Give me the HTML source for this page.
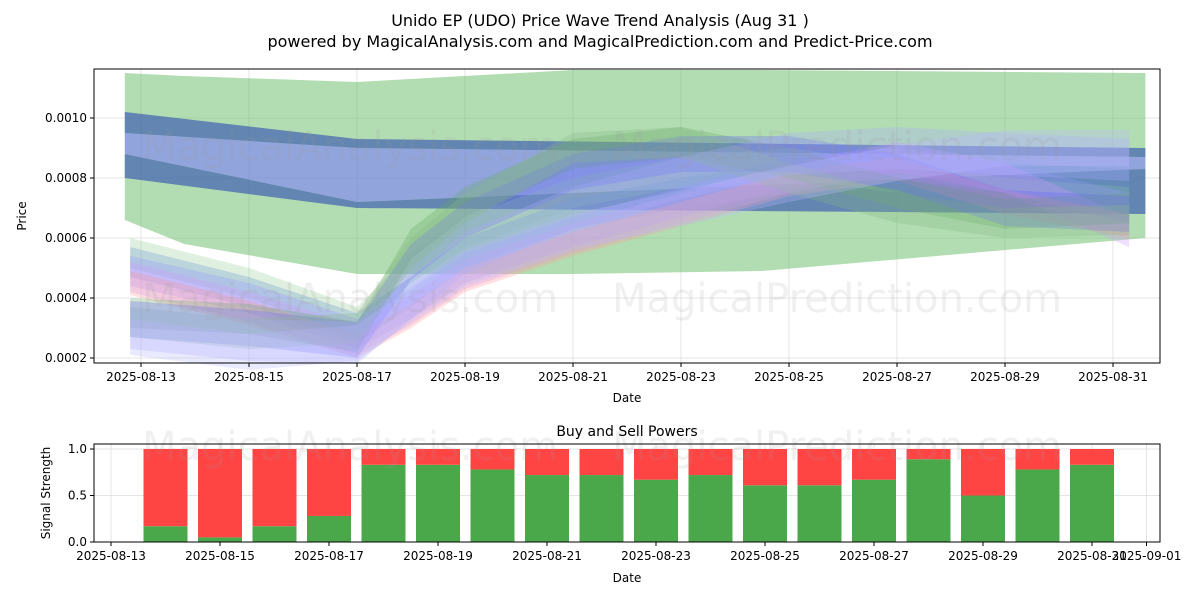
<!DOCTYPE html>
<html><head><meta charset="utf-8"><style>
body{margin:0;background:#fff;font-family:"Liberation Sans","DejaVu Sans",sans-serif}
svg text{font-family:"DejaVu Sans","Liberation Sans",sans-serif}
</style></head><body>
<svg id="c" width="1200" height="600" xmlns="http://www.w3.org/2000/svg">
<text x="600" y="26" font-size="16" text-anchor="middle">Unido EP (UDO) Price Wave Trend Analysis (Aug 31 )</text>
<text x="600" y="47" font-size="16" text-anchor="middle">powered by MagicalAnalysis.com and MagicalPrediction.com and Predict-Price.com</text>
<g id="topg"></g><g id="botg"></g>
</svg>
<script>
const priceTicks=[0.0002,0.0004,0.0006,0.0008,0.0010];
const dateTicks=["2025-08-13","2025-08-15","2025-08-17","2025-08-19","2025-08-21","2025-08-23","2025-08-25","2025-08-27","2025-08-29","2025-08-31"];
const bandDays=[12.8,15,17,18,19,21,23,25,27,29,31.3];
const waveCenters=[
[0.00055,0.00045,0.00032,0.00050,0.00062,0.00075,0.00082,0.00085,0.00080,0.00075,0.00072],
[0.00052,0.00042,0.00030,0.00042,0.00055,0.00068,0.00075,0.00080,0.00083,0.00080,0.00078],
[0.00049,0.00040,0.00028,0.00038,0.00050,0.00062,0.00072,0.00082,0.00085,0.00080,0.00070],
[0.00047,0.00037,0.00026,0.00036,0.00048,0.00060,0.00070,0.00080,0.00087,0.00080,0.00062],
[0.00045,0.00035,0.00024,0.00034,0.00046,0.00058,0.00068,0.00078,0.00083,0.00072,0.00064],
[0.00035,0.00033,0.00027,0.00058,0.00072,0.00088,0.00092,0.00085,0.00075,0.00068,0.00070],
[0.00033,0.00030,0.00026,0.00052,0.00066,0.00082,0.00088,0.00088,0.00082,0.00070,0.00068],
[0.00032,0.00028,0.00030,0.00055,0.00070,0.00090,0.00092,0.00080,0.00070,0.00065,0.00066],
[0.00030,0.00026,0.00025,0.00040,0.00055,0.00070,0.00080,0.00088,0.00090,0.00088,0.00086],
[0.00027,0.00022,0.00025,0.00038,0.00050,0.00062,0.00070,0.00078,0.00085,0.00090,0.00090]
];
const waveHalf=[0.00005,0.00005,0.00005,0.00005,0.00004,0.00005,0.00006,0.00005,0.00007,0.00006];
const waveColors=["#9c9","#69c","#99f","#c9f","#f99","#6a6","#66f","#8b8","#aaf","#bbf"];
const greenDays=[12.7,13.8,17,21,24.5,31.6];
const greenUpper=[0.00115,0.00114,0.00112,0.00116,0.00116,0.00115];
const greenLower=[0.00066,0.00058,0.00048,0.00048,0.00049,0.00060];
const blueDays=[12.7,17,31.6];
const dark1Upper=[0.00102,0.00093,0.00090];
const dark1Lower=[0.00095,0.00090,0.00087];
const dark2Upper=[0.00088,0.00072,0.00083];
const dark2Lower=[0.00080,0.00070,0.00068];
const buyDays=[14,15,16,17,18,19,20,21,22,23,24,25,26,27,28,29,30,31];
const buyPower=[0.17,0.05,0.17,0.28,0.83,0.83,0.78,0.72,0.72,0.67,0.72,0.61,0.61,0.67,0.89,0.5,0.78,0.83];
const sigTicks=[0,0.5,1.0];
const botDateTicks=["2025-08-13","2025-08-15","2025-08-17","2025-08-19","2025-08-21","2025-08-23","2025-08-25","2025-08-27","2025-08-29","2025-08-31","2025-09-01"];
const botDateDays=[13,15,17,19,21,23,25,27,29,31,32];

const NS="http://www.w3.org/2000/svg";
function mk(p,t,a){const e=document.createElementNS(NS,t);for(const k in a)e.setAttribute(k,a[k]);p.appendChild(e);return e;}
const X=d=>141+(d-13)*54, Y=v=>358-(v-0.0002)/0.0002*60;
const topG=document.getElementById('topg'),botG=document.getElementById('botg');
priceTicks.forEach(v=>{const l=mk(topG,'line',{x1:94,x2:1160,y1:Y(v),y2:Y(v),stroke:'#ddd','stroke-width':0.8});});
dateTicks.forEach((s,i)=>{const d=13+2*i;const l=mk(topG,'line',{x1:X(d),x2:X(d),y1:69,y2:363,stroke:'#ddd','stroke-width':0.8});});
function band(days,up,lo,fill,op,name){
 let pts=days.map((d,i)=>X(d)+','+Math.max(69,Y(up[i])));
 pts=pts.concat(days.map((d,i)=>X(d)+','+Y(lo[i])).reverse());
 const p=mk(topG,'polygon',{points:pts.join(' '),fill:fill,'fill-opacity':op});
 
 
}
band(greenDays,greenUpper,greenLower,'#6b6',0.5,'green-band');
band(blueDays,dark1Lower,dark2Upper,'#77f',0.55,'blue-fill-band');
band(blueDays,dark1Upper,dark1Lower,'#4060b0',0.7,'blue-upper-band');
band(blueDays,dark2Upper,dark2Lower,'#4060b0',0.7,'blue-lower-band');
waveCenters.forEach((c,k)=>{
 band(bandDays,c.map(v=>v+waveHalf[k]),c.map(v=>v-waveHalf[k]),waveColors[k],0.3,'wave-band');
});
[[350,160],[837,160],[350,312],[837,312]].forEach((p,i)=>{const w=mk(topG,'text',{x:p[0],y:p[1],'font-size':40,'text-anchor':'middle',fill:'#999','fill-opacity':0.15});w.textContent=i%2?'MagicalPrediction.com':'MagicalAnalysis.com';});
mk(topG,'rect',{x:94,y:69,width:1066,height:294,fill:'none',stroke:'#000','stroke-width':1});
priceTicks.forEach(v=>{mk(topG,'line',{x1:90,x2:94,y1:Y(v),y2:Y(v),stroke:'#000'});const tx=mk(topG,'text',{x:87,y:Y(v)+4,'font-size':12,'text-anchor':'end'});tx.textContent=v.toFixed(4);});
dateTicks.forEach((s,i)=>{const d=13+2*i;mk(topG,'line',{x1:X(d),x2:X(d),y1:363,y2:367,stroke:'#000'});const tx=mk(topG,'text',{x:X(d),y:381,'font-size':12,'text-anchor':'middle'});tx.textContent=s;});
let tt=mk(topG,'text',{x:627,y:402,'font-size':12,'text-anchor':'middle'});tt.textContent='Date';
tt=mk(topG,'text',{x:26,y:216,'font-size':12,'text-anchor':'middle',transform:'rotate(-90 26 216)'});tt.textContent='Price';
const BX=d=>111+(d-13)*54.5, BY=v=>542-v*93;
sigTicks.forEach(v=>{const l=mk(botG,'line',{x1:94,x2:1160,y1:BY(v),y2:BY(v),stroke:'#ddd','stroke-width':0.8});});
botDateDays.forEach(d=>{const l=mk(botG,'line',{x1:BX(d),x2:BX(d),y1:444,y2:542,stroke:'#ddd','stroke-width':0.8});});
buyDays.forEach((d,i)=>{
 const g=mk(botG,'rect',{x:BX(d)-22,y:BY(buyPower[i]),width:44,height:BY(0)-BY(buyPower[i]),fill:'#4aa84a'});
 
 
 const r=mk(botG,'rect',{x:BX(d)-22,y:BY(1),width:44,height:BY(buyPower[i])-BY(1),fill:'#ff4444'});
 
 
});
[[350,460],[837,460]].forEach((p,i)=>{const w=mk(botG,'text',{x:p[0],y:p[1],'font-size':40,'text-anchor':'middle',fill:'#999','fill-opacity':0.15});w.textContent=i?'MagicalPrediction.com':'MagicalAnalysis.com';});
mk(botG,'rect',{x:94,y:444,width:1066,height:98,fill:'none',stroke:'#000','stroke-width':1});
sigTicks.forEach(v=>{mk(botG,'line',{x1:90,x2:94,y1:BY(v),y2:BY(v),stroke:'#000'});const tx=mk(botG,'text',{x:87,y:BY(v)+4,'font-size':12,'text-anchor':'end'});tx.textContent=v.toFixed(1);});
botDateDays.forEach((d,i)=>{mk(botG,'line',{x1:BX(d),x2:BX(d),y1:542,y2:546,stroke:'#000'});const tx=mk(botG,'text',{x:BX(d),y:560,'font-size':12,'text-anchor':'middle'});tx.textContent=botDateTicks[i];});
tt=mk(botG,'text',{x:627,y:436,'font-size':14,'text-anchor':'middle'});tt.textContent='Buy and Sell Powers';
tt=mk(botG,'text',{x:627,y:582,'font-size':12,'text-anchor':'middle'});tt.textContent='Date';
tt=mk(botG,'text',{x:50,y:493,'font-size':12,'text-anchor':'middle',transform:'rotate(-90 50 493)'});tt.textContent='Signal Strength';
</script>
</body></html>
